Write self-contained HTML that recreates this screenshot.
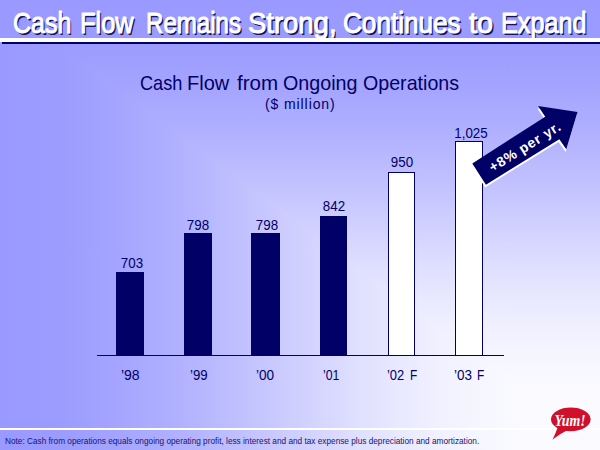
<!DOCTYPE html>
<html><head><meta charset="utf-8">
<style>
html,body{margin:0;padding:0;}
body{width:600px;height:450px;overflow:hidden;position:relative;font-family:"Liberation Sans",sans-serif;
background-image:linear-gradient(to right,rgb(153,153,255) 0px,rgb(154,154,255) 30px,rgb(156,156,255) 60px,rgb(160,160,255) 90px,rgb(165,165,255) 120px,rgb(177,177,255) 180px,rgb(192,192,255) 240px,rgb(208,208,255) 300px,rgb(224,224,255) 360px,rgb(237,237,255) 420px,rgb(242,242,255) 450px,rgb(246,246,255) 480px,rgb(249,249,255) 510px,rgb(251,251,255) 540px,rgb(251,251,255) 570px,rgb(251,251,255) 600px),linear-gradient(to bottom,rgb(153,153,255) 0px,rgb(154,154,255) 23px,rgb(156,156,255) 45px,rgb(160,160,255) 68px,rgb(165,165,255) 90px,rgb(177,177,255) 135px,rgb(192,192,255) 180px,rgb(208,208,255) 225px,rgb(224,224,255) 270px,rgb(237,237,255) 315px,rgb(242,242,255) 338px,rgb(246,246,255) 360px,rgb(249,249,255) 382px,rgb(251,251,255) 405px,rgb(251,251,255) 428px,rgb(251,251,255) 450px);
background-blend-mode:darken;}
.abs{position:absolute;white-space:nowrap;}
.tw{position:absolute;top:2.5px;white-space:nowrap;font-size:30px;line-height:40px;color:#fff;-webkit-text-stroke:1px #fff;text-shadow:1.8px 1.8px 0.4px #14145a;transform-origin:0 0;}
#wl{left:0;top:38px;width:600px;height:4px;background:#fff;}
#dl{left:2px;top:42px;width:598px;height:2px;background:#000066;}
.cw{position:absolute;top:71px;white-space:nowrap;font-size:19.8px;line-height:24px;color:#000066;transform-origin:0 0;}
#cs{left:265px;top:95px;font-size:14px;line-height:18px;color:#000066;letter-spacing:0.9px;transform-origin:0 0;}
.bar{position:absolute;background:#000066;}
.wbar{position:absolute;background:#fff;border:1.5px solid #000066;border-bottom:none;box-sizing:border-box;}
.lab{position:absolute;font-size:14.5px;line-height:18px;color:#000066;text-align:center;width:60px;transform:scaleX(0.92);}
.xl{position:absolute;font-size:14px;line-height:18px;color:#000066;transform-origin:0 0;}
#axis{left:97px;top:355px;width:407px;height:1.3px;background:#000066;}
#fl{left:0;top:428px;width:600px;height:2px;background:#fff;}
#note{left:4.5px;top:435px;font-size:8.6px;line-height:12px;color:#151570;transform:scaleX(0.96);transform-origin:0 0;}
</style></head><body>
<div id="title">
<span class="tw" style="left:12.64px;transform:scaleX(0.8318)">Cash</span>
<span class="tw" style="left:80.01px;transform:scaleX(0.8459)">Flow</span>
<span class="tw" style="left:145.89px;transform:scaleX(0.8026)">Remains</span>
<span class="tw" style="left:248.47px;transform:scaleX(0.9152)">Strong,</span>
<span class="tw" style="left:343.26px;transform:scaleX(0.8712)">Continues</span>
<span class="tw" style="left:469.00px;transform:scaleX(0.9583)">to</span>
<span class="tw" style="left:501.02px;transform:scaleX(0.8398)">Expand</span>
</div>
<div id="wl" class="abs"></div>
<div id="dl" class="abs"></div>
<div id="ct">
<span class="cw" style="left:139.68px;transform:scaleX(0.9182)">Cash</span>
<span class="cw" style="left:187.18px;transform:scaleX(1.0100)">Flow</span>
<span class="cw" style="left:236.50px;transform:scaleX(1.0395)">from</span>
<span class="cw" style="left:282.50px;transform:scaleX(0.9959)">Ongoing</span>
<span class="cw" style="left:363.01px;transform:scaleX(0.9926)">Operations</span>
</div>
<div id="cs" class="abs">($ million)</div>

<div class="bar" style="left:116px;top:272px;width:28px;height:83px"></div>
<div class="bar" style="left:184px;top:233px;width:28px;height:122px"></div>
<div class="bar" style="left:251px;top:233px;width:29px;height:122px"></div>
<div class="bar" style="left:320px;top:216px;width:27px;height:139px"></div>
<div class="wbar" style="left:388px;top:172px;width:27px;height:183px"></div>
<div class="wbar" style="left:455px;top:141px;width:28px;height:214px"></div>
<div id="axis" class="abs"></div>

<div id="l1" class="lab" style="left:102.25px;top:254px">703</div>
<div id="l2" class="lab" style="left:168px;top:216px">798</div>
<div id="l3" class="lab" style="left:236.5px;top:216px">798</div>
<div id="l4" class="lab" style="left:303.75px;top:197px">842</div>
<div id="l5" class="lab" style="left:372.1px;top:153px">950</div>
<div id="l6" class="lab" style="left:440.5px;top:124px">1,025</div>

<div id="x1" class="xl" style="left:120.90px;top:366px;transform:scaleX(1.000)">’98</div>
<div id="x2" class="xl" style="left:189.85px;top:366px;transform:scaleX(0.947)">’99</div>
<div id="x3" class="xl" style="left:256.03px;top:366px;transform:scaleX(0.971)">’00</div>
<div id="x4" class="xl" style="left:323.12px;top:366px;transform:scaleX(0.882)">’01</div>
<div id="x5" class="xl" style="left:386.98px;top:366px;transform:scaleX(0.924)">’02</div>
<div id="x6" class="xl" style="left:453.74px;top:366px;transform:scaleX(0.959)">’03</div>
<div id="f5" class="xl" style="left:410.25px;top:366px;transform:scaleX(0.85)">F</div>
<div id="f6" class="xl" style="left:476.85px;top:366px;transform:scaleX(0.85)">F</div>

<div id="fl" class="abs"></div>
<svg class="abs" style="left:0;top:0" width="600" height="450" viewBox="0 0 600 450">
  <polygon points="471.6,166.0 485.2,187.4 558.6,141.9 565.6,151.9 576.8,114.6 537.4,108.6 544.5,119.3" fill="#ffffff"/>
  <polygon points="472.3,163.4 485.9,184.8 559.3,139.3 566.3,149.3 577.5,112 538.1,106 545.2,116.7" fill="#000066"/>
  <text x="53.4" y="5.9" text-anchor="middle" transform="translate(479.1,174.1) rotate(-32)" font-family="Liberation Sans" font-weight="bold" font-size="14" letter-spacing="0.7" fill="#fff">+8% per yr.</text>
  <ellipse cx="570.8" cy="419.3" rx="19.8" ry="11.9" fill="#d0102a"/>
  <path d="M558,426 L569,429.5 C563,432 557,436 552.5,439.8 C554.5,435.5 556.5,431 558,426 Z" fill="#d0102a"/>
  <text x="0" y="0" transform="translate(554.6,425.6) scale(0.84,1)" font-family="Liberation Serif" font-weight="bold" font-style="italic" font-size="16.5" fill="#fff">Yum!</text>
</svg>

<div id="note" class="abs">Note: Cash from operations equals ongoing operating profit, less interest and and tax expense plus depreciation and amortization.</div>
</body></html>
